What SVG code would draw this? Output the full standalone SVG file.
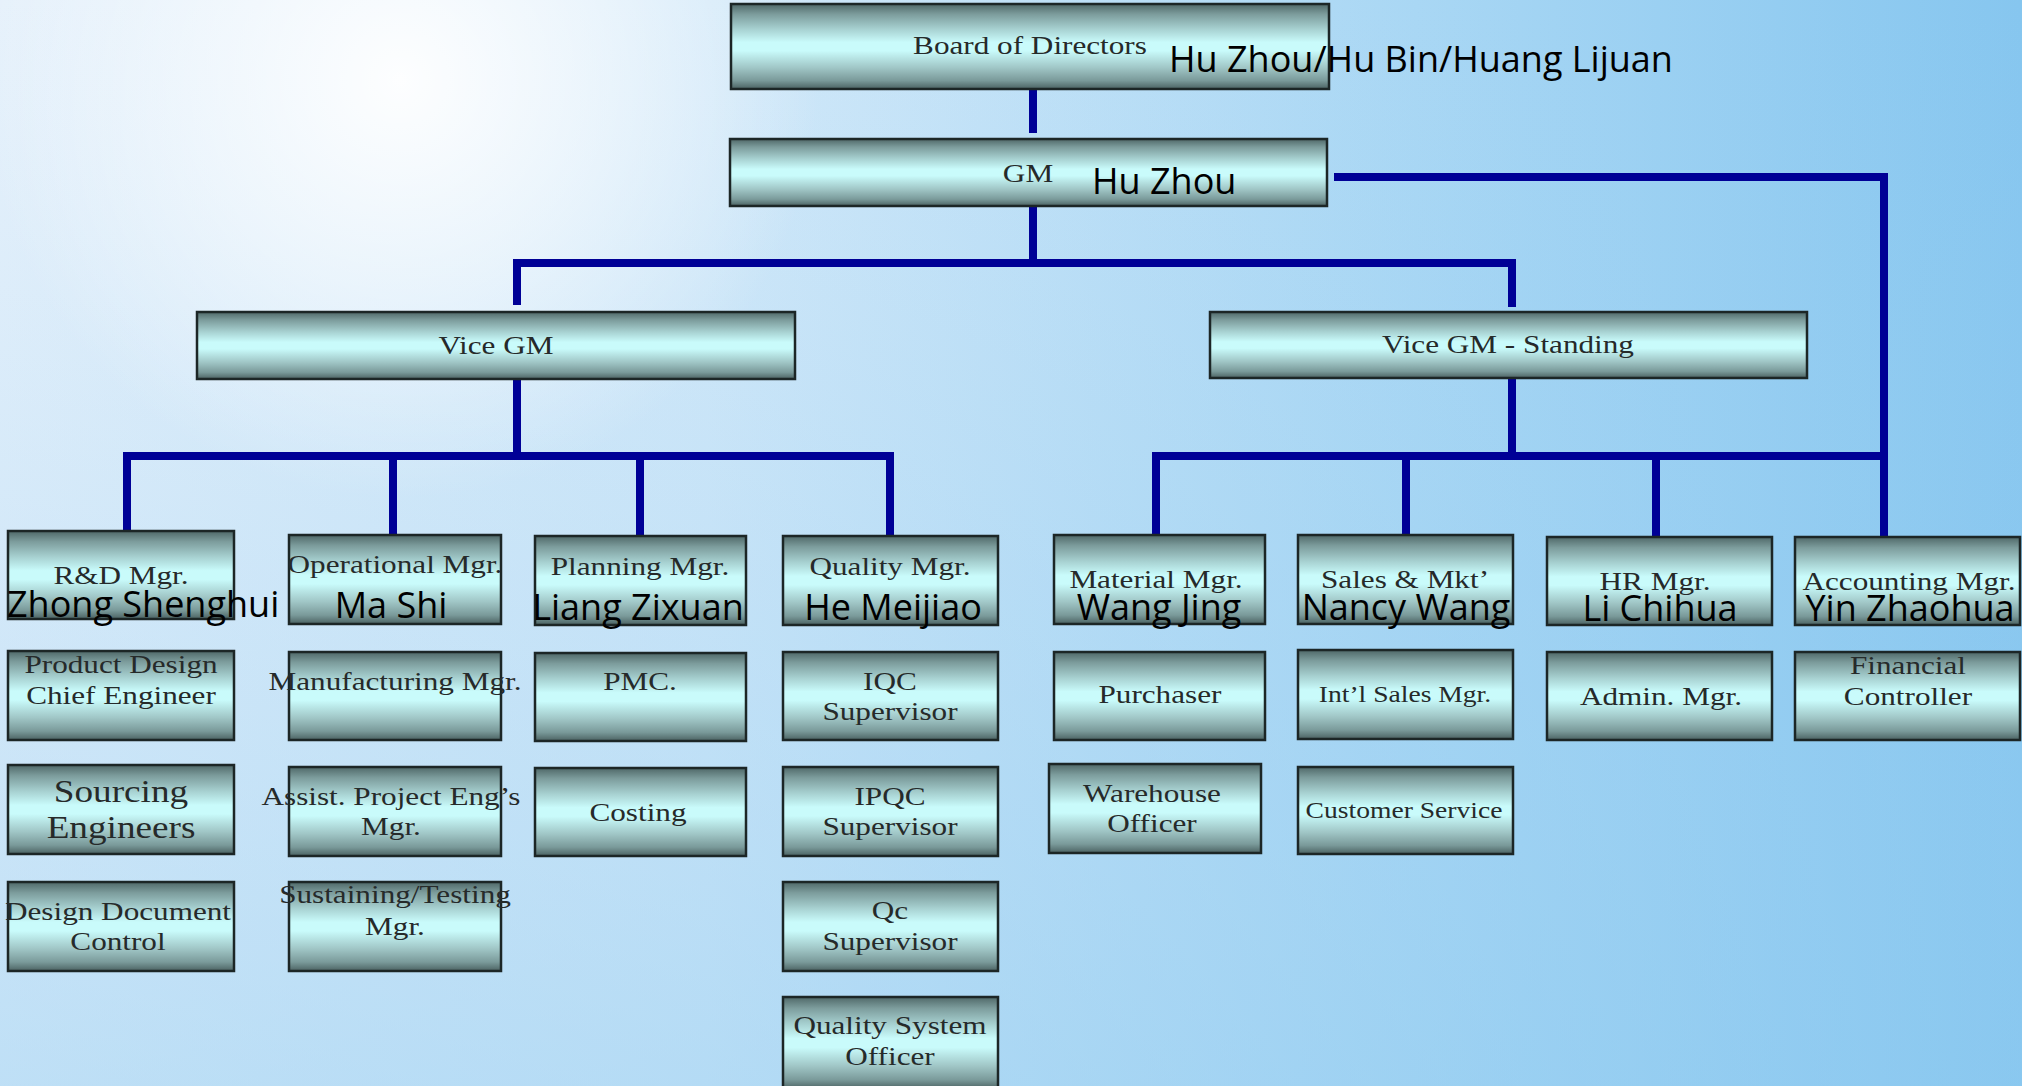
<svg xmlns="http://www.w3.org/2000/svg" width="2022" height="1086" viewBox="0 0 2022 1086">
<defs>
<linearGradient id="bgH" x1="0" y1="0" x2="1" y2="0">
<stop offset="0" stop-color="#e6f1fb"/>
<stop offset="0.35" stop-color="#d3e9f9"/>
<stop offset="0.7" stop-color="#a9d7f4"/>
<stop offset="1" stop-color="#86c6ef"/>
</linearGradient>
<linearGradient id="bgV" x1="0" y1="0" x2="0" y2="1">
<stop offset="0" stop-color="#9fd0f2" stop-opacity="0"/>
<stop offset="1" stop-color="#8ecaf0" stop-opacity="0.45"/>
</linearGradient>
<radialGradient id="glow" cx="400" cy="80" r="420" gradientUnits="userSpaceOnUse">
<stop offset="0" stop-color="#ffffff" stop-opacity="0.95"/>
<stop offset="0.5" stop-color="#ffffff" stop-opacity="0.5"/>
<stop offset="1" stop-color="#ffffff" stop-opacity="0"/>
</radialGradient>
<linearGradient id="bx" x1="0" y1="0" x2="0" y2="1">
<stop offset="0" stop-color="#4f6868"/>
<stop offset="0.12" stop-color="#7c9c9c"/>
<stop offset="0.3" stop-color="#a8d2d2"/>
<stop offset="0.45" stop-color="#c9fbfb"/>
<stop offset="0.55" stop-color="#c9fbfb"/>
<stop offset="0.75" stop-color="#a0c6c6"/>
<stop offset="0.9" stop-color="#7a9a9a"/>
<stop offset="1" stop-color="#4b6262"/>
</linearGradient>
</defs>
<style>
.b { fill: url(#bx); stroke: #1c2626; stroke-width: 2.5; }
.t { font-family: "Liberation Serif", "Times New Roman", serif; font-size: 26px; fill: #262a2a; text-anchor: middle; transform-box: fill-box; transform-origin: center; transform: scaleX(1.2); }
.s23 { font-size: 23px; }
.s31 { font-size: 31px; }
.n { font-family: "Open Sans", "Noto Sans", sans-serif; font-size: 36px; fill: #000; text-anchor: middle; }
.ns { text-anchor: start; }
.c { fill: none; stroke: #000096; stroke-width: 8; stroke-linejoin: miter; }
</style>
<rect x="0" y="0" width="2022" height="1086" fill="url(#bgH)"/>
<rect x="0" y="0" width="2022" height="1086" fill="url(#bgV)"/>
<rect x="0" y="0" width="2022" height="1086" fill="url(#glow)"/>

<g id="connectors">
<path class="c" d="M1033 89 V133"/>
<path class="c" d="M1033 206 V263"/>
<path class="c" d="M517 305 V263 H1512 V307"/>
<path class="c" d="M517 379 V456"/>
<path class="c" d="M127 531 V456 H890 V536"/>
<path class="c" d="M393 456 V535"/>
<path class="c" d="M640 456 V536"/>
<path class="c" d="M1512 378 V456"/>
<path class="c" d="M1156 535 V456 H1884"/>
<path class="c" d="M1406 456 V535"/>
<path class="c" d="M1656 456 V537"/>
<path class="c" d="M1334 177 H1884 V537"/>
</g>

<g id="board">
<rect class="b" x="731" y="4" width="598" height="85"/>
<text class="t" x="1030" y="54">Board of Directors</text>
<text class="n ns" x="1169" y="72">Hu Zhou/Hu Bin/Huang Lijuan</text>
</g>
<g id="gm">
<rect class="b" x="730" y="139" width="597" height="67"/>
<text class="t" x="1028" y="182">GM</text>
<text class="n ns" x="1092" y="194">Hu Zhou</text>
</g>
<g id="vice-gm">
<rect class="b" x="197" y="312" width="598" height="67"/>
<text class="t" x="496" y="354">Vice GM</text>
</g>
<g id="vice-gm-standing">
<rect class="b" x="1210" y="312" width="597" height="66"/>
<text class="t" x="1508" y="353">Vice GM - Standing</text>
</g>

<g id="rd-mgr">
<rect class="b" x="8" y="531" width="226" height="88"/>
<text class="t" x="121" y="584">R&amp;D Mgr.</text>
<text class="n ns" x="7" y="617">Zhong Shenghui</text>
</g>
<g id="operational-mgr">
<rect class="b" x="289" y="535" width="212" height="89"/>
<text class="t" x="395" y="573">Operational Mgr.</text>
<text class="n" x="391" y="618">Ma Shi</text>
</g>
<g id="planning-mgr">
<rect class="b" x="535" y="536" width="211" height="89"/>
<text class="t" x="640" y="575">Planning Mgr.</text>
<text class="n" x="638" y="620">Liang Zixuan</text>
</g>
<g id="quality-mgr">
<rect class="b" x="783" y="536" width="215" height="89"/>
<text class="t" x="890" y="575">Quality Mgr.</text>
<text class="n" x="893" y="620">He Meijiao</text>
</g>
<g id="material-mgr">
<rect class="b" x="1054" y="535" width="211" height="89"/>
<text class="t" x="1156" y="588">Material Mgr.</text>
<text class="n" x="1159" y="620">Wang Jing</text>
</g>
<g id="sales-mkt">
<rect class="b" x="1298" y="535" width="215" height="89"/>
<text class="t" x="1405" y="588">Sales &amp; Mkt’</text>
<text class="n" x="1406" y="620">Nancy Wang</text>
</g>
<g id="hr-mgr">
<rect class="b" x="1547" y="537" width="225" height="88"/>
<text class="t" x="1655" y="590">HR Mgr.</text>
<text class="n" x="1660" y="621">Li Chihua</text>
</g>
<g id="accounting-mgr">
<rect class="b" x="1795" y="537" width="225" height="88"/>
<text class="t" x="1909" y="590">Accounting Mgr.</text>
<text class="n" x="1910" y="621">Yin Zhaohua</text>
</g>

<g id="product-design">
<rect class="b" x="8" y="651" width="226" height="89"/>
<text class="t"><tspan x="121" y="673">Product Design</tspan><tspan x="121" y="704">Chief Engineer</tspan></text>
</g>
<g id="manufacturing-mgr">
<rect class="b" x="289" y="652" width="212" height="88"/>
<text class="t" x="395" y="690">Manufacturing Mgr.</text>
</g>
<g id="pmc">
<rect class="b" x="535" y="653" width="211" height="88"/>
<text class="t" x="640" y="690">PMC.</text>
</g>
<g id="iqc">
<rect class="b" x="783" y="652" width="215" height="88"/>
<text class="t"><tspan x="890" y="690">IQC</tspan><tspan x="890" y="720">Supervisor</tspan></text>
</g>
<g id="purchaser">
<rect class="b" x="1054" y="652" width="211" height="88"/>
<text class="t" x="1160" y="703">Purchaser</text>
</g>
<g id="intl-sales-mgr">
<rect class="b" x="1298" y="650" width="215" height="89"/>
<text class="t s23" x="1405" y="702">Int’l Sales Mgr.</text>
</g>
<g id="admin-mgr">
<rect class="b" x="1547" y="652" width="225" height="88"/>
<text class="t" x="1661" y="705">Admin. Mgr.</text>
</g>
<g id="financial-controller">
<rect class="b" x="1795" y="652" width="225" height="88"/>
<text class="t"><tspan x="1908" y="674">Financial</tspan><tspan x="1908" y="705">Controller</tspan></text>
</g>

<g id="sourcing-engineers">
<rect class="b" x="8" y="765" width="226" height="89"/>
<text class="t s31"><tspan x="121" y="802">Sourcing</tspan><tspan x="121" y="838">Engineers</tspan></text>
</g>
<g id="assist-project">
<rect class="b" x="289" y="767" width="212" height="89"/>
<text class="t"><tspan x="391" y="805">Assist. Project Eng’s</tspan><tspan x="391" y="835">Mgr.</tspan></text>
</g>
<g id="costing">
<rect class="b" x="535" y="768" width="211" height="88"/>
<text class="t" x="638" y="821">Costing</text>
</g>
<g id="ipqc">
<rect class="b" x="783" y="767" width="215" height="89"/>
<text class="t"><tspan x="890" y="805">IPQC</tspan><tspan x="890" y="835">Supervisor</tspan></text>
</g>
<g id="warehouse-officer">
<rect class="b" x="1049" y="764" width="212" height="89"/>
<text class="t"><tspan x="1152" y="802">Warehouse</tspan><tspan x="1152" y="832">Officer</tspan></text>
</g>
<g id="customer-service">
<rect class="b" x="1298" y="767" width="215" height="87"/>
<text class="t s23" x="1404" y="818">Customer Service</text>
</g>

<g id="design-document">
<rect class="b" x="8" y="882" width="226" height="89"/>
<text class="t"><tspan x="118" y="920">Design Document</tspan><tspan x="118" y="950">Control</tspan></text>
</g>
<g id="sustaining-testing">
<rect class="b" x="289" y="882" width="212" height="89"/>
<text class="t"><tspan x="395" y="903">Sustaining/Testing</tspan><tspan x="395" y="935">Mgr.</tspan></text>
</g>
<g id="qc-supervisor">
<rect class="b" x="783" y="882" width="215" height="89"/>
<text class="t"><tspan x="890" y="919">Qc</tspan><tspan x="890" y="950">Supervisor</tspan></text>
</g>
<g id="quality-system-officer">
<rect class="b" x="783" y="997" width="215" height="92"/>
<text class="t"><tspan x="890" y="1034">Quality System</tspan><tspan x="890" y="1065">Officer</tspan></text>
</g>
</svg>
